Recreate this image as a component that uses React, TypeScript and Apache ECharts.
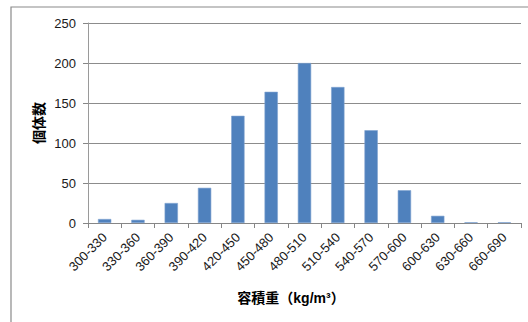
import React, { useEffect, useRef } from "react";
import * as echarts from "echarts";

// Bulk density classes (kg/m³) and number of individuals in each class
const categories = [
  "300-330", "330-360", "360-390", "390-420", "420-450", "450-480", "480-510",
  "510-540", "540-570", "570-600", "600-630", "630-660", "660-690",
];
const counts = [5, 4, 25, 44, 134, 164, 200, 170, 116, 41, 9, 1, 1];
const yTicks = { min: 0, max: 250, interval: 50 };
const xTitle = "容積重（kg/m³）";
const yTitle = "個体数";

const latin = "'Liberation Sans', Arial, sans-serif";
const cjk = "'Liberation Sans', 'Noto Sans CJK JP', sans-serif";

export default function App() {
  const ref = useRef<HTMLDivElement>(null);

  useEffect(() => {
    if (!ref.current) return;
    const chart = echarts.init(ref.current, undefined, { renderer: "svg" });
    chart.setOption({
      animation: false,
      backgroundColor: "#ffffff",
      grid: { left: 88, right: 7, top: 23, bottom: 99, containLabel: false },
      xAxis: {
        type: "category",
        data: categories,
        axisLine: { lineStyle: { color: "#868686", width: 1 } },
        axisTick: { show: true, alignWithLabel: false, length: 5, lineStyle: { color: "#868686" } },
        axisLabel: {
          rotate: 45,
          interval: 0,
          margin: 12,
          color: "#1a1a1a",
          fontSize: 13,
          fontFamily: latin,
        },
      },
      yAxis: {
        type: "value",
        min: yTicks.min,
        max: yTicks.max,
        interval: yTicks.interval,
        axisLine: { show: true, lineStyle: { color: "#9a9a9a", width: 1 } },
        axisTick: { show: true, length: 5, lineStyle: { color: "#868686" } },
        axisLabel: { color: "#1a1a1a", fontSize: 13, fontFamily: latin, margin: 12 },
        splitLine: { lineStyle: { color: "#8c8c8c", width: 1 } },
      },
      series: [
        {
          type: "bar",
          data: counts,
          barWidth: "40%",
          itemStyle: { color: "#4F81BD", borderColor: "#7fa3d0", borderWidth: 0.6 },
        },
      ],
      graphic: [
        {
          type: "rect",
          shape: { x: 11, y: 7, width: 540, height: 340 },
          style: { fill: "none", stroke: "#8a8a8a", lineWidth: 1.2 },
          silent: true,
          z: 10,
        },
        {
          type: "text",
          x: 38.5,
          y: 123,
          rotation: Math.PI / 2,
          style: {
            text: yTitle,
            font: `bold 14px ${cjk}`,
            fill: "#000000",
            align: "center",
            verticalAlign: "middle",
          },
        },
        {
          type: "text",
          x: 291,
          y: 298,
          style: {
            text: xTitle,
            font: `bold 14px ${cjk}`,
            fill: "#000000",
            align: "center",
            verticalAlign: "middle",
          },
        },
      ],
    });
    return () => chart.dispose();
  }, []);

  return (
    <div
      ref={ref}
      style={{ position: "absolute", left: 0, top: 0, width: 528, height: 322 }}
    />
  );
}
